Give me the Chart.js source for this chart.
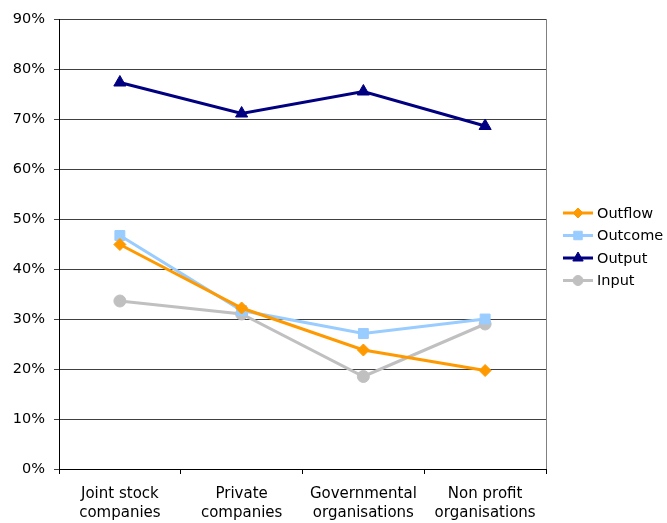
<!DOCTYPE html>
<html>
<head>
<meta charset="utf-8">
<script src="https://cdn.jsdelivr.net/npm/chart.js@4/dist/chart.umd.min.js"></script>
<style>
  html, body { margin: 0; padding: 0; background: #fff; }
  #wrap { width: 667px; height: 523px; }
</style>
</head>
<body>
<div id="wrap"><canvas id="c" width="667" height="523"></canvas></div>
<script>
// Organisation types (two-line labels)
const categories = [
  ["Joint stock", "companies"],
  ["Private", "companies"],
  ["Governmental", "organisations"],
  ["Non profit", "organisations"]
];

// Share of respondents per organisation type, in percent
const outflow = [44.9, 32.2, 23.8, 19.7];
const outcome = [46.7, 31.7, 27.1, 30.0];
const output  = [77.3, 71.1, 75.5, 68.6];
const input   = [33.6, 31.0, 18.5, 29.0];

const yTicks = [0, 10, 20, 30, 40, 50, 60, 70, 80, 90];

const FONT = "'DejaVu Sans', Verdana, sans-serif";
const FONT_SIZE = 14.5;

function series(label, data, color, style, radius) {
  return {
    label, data,
    borderColor: color,
    backgroundColor: color,
    borderWidth: 3,
    pointStyle: style,
    pointRadius: radius,
    pointHoverRadius: radius,
    pointBorderWidth: 1,
    tension: 0
  };
}

// Legend drawn at the right of the plot area
const sideLegend = {
  id: 'sideLegend',
  afterDraw(chart) {
    const ctx = chart.ctx;
    const x0 = 563, x1 = 593, tx = 597, y0 = 213, dy = 22.5;
    ctx.save();
    chart.data.datasets.forEach((ds, i) => {
      const y = y0 + i * dy;
      ctx.strokeStyle = ds.borderColor;
      ctx.lineWidth = 3;
      ctx.beginPath();
      ctx.moveTo(x0, y);
      ctx.lineTo(x1, y);
      ctx.stroke();
      ctx.fillStyle = ds.backgroundColor;
      ctx.strokeStyle = ds.borderColor;
      ctx.lineWidth = 1;
      Chart.helpers.drawPoint(ctx, {
        pointStyle: ds.pointStyle,
        radius: ds.pointRadius - 1,
        rotation: 0,
        borderWidth: 1
      }, (x0 + x1) / 2, y);
      ctx.fillStyle = '#000';
      ctx.font = FONT_SIZE + 'px ' + FONT;
      ctx.textAlign = 'left';
      ctx.textBaseline = 'middle';
      ctx.fillText(ds.label, tx, y + 1);
    });
    // right edge of the plot area
    const a = chart.chartArea;
    ctx.strokeStyle = '#808080';
    ctx.lineWidth = 1;
    ctx.beginPath();
    ctx.moveTo(Math.round(a.right) + 0.5, a.top);
    ctx.lineTo(Math.round(a.right) + 0.5, a.bottom);
    ctx.stroke();
    ctx.restore();
  }
};

new Chart(document.getElementById('c'), {
  type: 'line',
  data: {
    labels: categories,
    datasets: [
      series('Outflow', outflow, '#FF9900', 'rectRot', 6),
      series('Outcome', outcome, '#99CCFF', 'rect', 7),
      series('Output',  output,  '#000080', 'triangle', 7),
      series('Input',   input,   '#C0C0C0', 'circle', 6)
    ]
  },
  options: {
    responsive: false,
    animation: false,
    layout: { padding: { top: 19, right: 121, left: 0, bottom: 0 } },
    plugins: {
      legend: { display: false },
      tooltip: { enabled: false }
    },
    scales: {
      x: {
        offset: true,
        afterFit(scale) { scale.height = 54; },
        grid: {
          offset: true,
          drawOnChartArea: false,
          tickLength: 5,
          color: '#000'
        },
        border: { color: '#000', width: 1 },
        ticks: {
          color: '#000',
          padding: 11,
          maxRotation: 0,
          autoSkip: false,
          font: { family: FONT, size: 15, lineHeight: 1.27 }
        }
      },
      y: {
        min: 0,
        max: 90,
        afterFit(scale) { scale.width = 59; },
        afterBuildTicks(scale) { scale.ticks = yTicks.map(v => ({ value: v })); },
        grid: {
          color: '#404040',
          tickLength: 5
        },
        border: { color: '#000', width: 1 },
        ticks: {
          color: '#000',
          padding: 9,
          font: { family: FONT, size: FONT_SIZE },
          callback: v => v + '%'
        }
      }
    }
  },
  plugins: [sideLegend]
});
</script>
</body>
</html>
